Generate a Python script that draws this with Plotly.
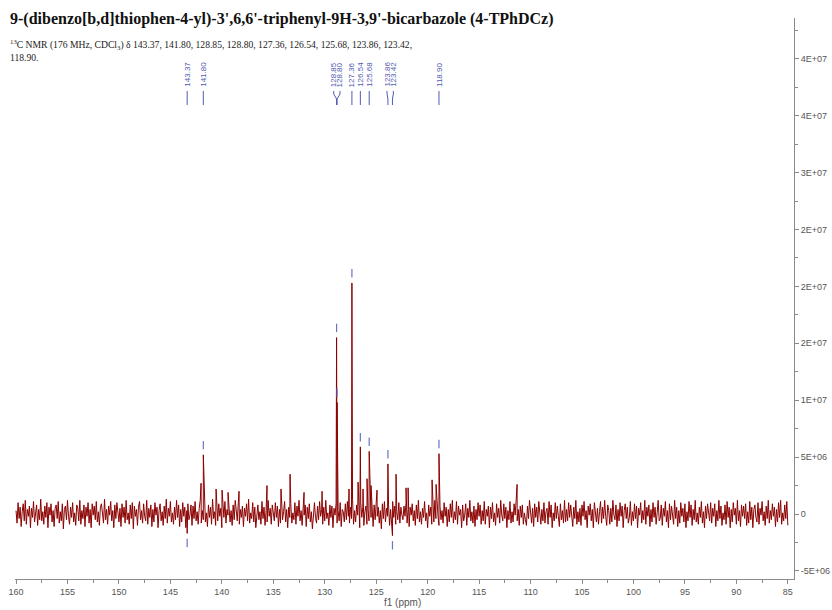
import numpy as np
import plotly.graph_objects as go

# ---------------- data ----------------
title_text = "9-(dibenzo[b,d]thiophen-4-yl)-3',6,6'-triphenyl-9H-3,9'-bicarbazole (4-TPhDCz)"
nmr_text = ("<sup>13</sup>C NMR (176 MHz, CDCl<sub>3</sub>) δ 143.37, 141.80, 128.85, 128.80, "
            "127.36, 126.54, 125.68, 123.86, 123.42,<br>118.90.")

# picked (labelled) peaks: ppm and intensity
picked_ppm = [143.37, 141.80, 128.85, 128.80, 127.36, 126.54, 125.68, 123.86, 123.42, 118.90]
picked_int = [-1.7e6, 5.2e6, 1.55e7, 9.8e6, 2.03e7, 5.9e6, 5.5e6, 4.4e6, -1.9e6, 5.3e6]

# smaller unlabelled signals
minor_ppm = [142.02, 140.56, 139.98, 139.40, 138.33, 135.61, 134.25, 133.37, 132.01, 130.26,
             127.64, 126.76, 126.28, 125.89, 125.50, 124.92, 123.07, 122.10, 121.90, 119.57,
             119.18, 111.31]
minor_int = [2.7e6, 2.2e6, 2.1e6, 1.9e6, 2.0e6, 2.5e6, 2.2e6, 3.5e6, 1.9e6, 2.0e6,
             2.2e6, 2.8e6, 2.2e6, 3.1e6, 2.5e6, 2.1e6, 3.5e6, 2.3e6, 2.3e6, 3.0e6,
             2.6e6, 2.6e6]

# baseline noise (units of 1e5), sampled every 0.1 ppm from 160.0 ppm down to 85.0 ppm
noise_start_ppm = 160.0
noise_step_ppm = 0.1
noise_e5 = [
    3, -8, 10, -4, 6, -11, 2, 9, -6, 12, -9, 4, -2, 7, -12, 5, -3, 11, -7, 1,
    8, -10, 4, -5, 13, -6, 2, -9, 7, -3, 10, -12, 6, -1, 9, -7, 3, -11, 5, 8,
    -4, 11, -8, 2, -6, 9, -13, 4, 7, -5, 12, -2, -9, 6, -3, 10, -7, 1, -10, 8,
    5, -6, 12, -9, 3, -4, 8, -11, 6, -2, 10, -8, 4, -12, 9, -1, 7, -5, 11, -7,
    2, -10, 6, 9, -3, -8, 13, -5, 4, -9, 7, -1, 11, -6, 3, -12, 8, -4, 10, -2,
    -7, 5, -11, 9, -3, 6, -8, 12, -5, 1, -9, 8, -4, 10, -13, 7, -2, 4, -10, 6,
    11, -5, 3, -8, 9, -2, -6, 12, -9, 5, -3, 8, -11, 4, -7, 10, -1, 6, -12, 3,
    9, -6, 2, -10, 7, -4, 13, -8, 5, -2, 11, -7, 1, -9, 6, -5, 12, -3, 8, -11,
    4, -7, 10, -2, 6, -12, 3, 9, -5, -1, 8, -10, 7, -4, 11, -6, 2, -9, 5, 12,
    -8, 3, -5, 10, -7, 1, -11, 8, -3, 6, -9, 13, -4, 2, -10, 7, -6, 9, -2, 5,
    -12, 6, -3, 11, -8, 4, -1, 9, -7, 3, -10, 8, -5, 12, -2, -6, 10, -9, 4, -3,
    7, -11, 5, -2, 9, -6, 13, -8, 1, -4, 10, -7, 6, -12, 3, 8, -5, 2, -9, 11,
    -4, 6, -10, 3, -7, 12, -2, 5, -9, 8, -1, -6, 10, -3, 7, -11, 4, -8, 9, -5,
    2, 11, -7, 4, -12, 6, -3, 9, -8, 1, -5, 10, -9, 7, -2, 12, -6, 3, -10, 5,
    -1, 8, -11, 6, -4, 9, -7, 2, -13, 5, 10, -3, -8, 7, -5, 11, -2, 4, -9, 6,
    -6, 12, -4, 1, -10, 8, -3, 7, -12, 5, -1, 9, -8, 3, -6, 10, -11, 4, 2, -7,
    9, -5, 11, -2, -8, 6, -4, 13, -9, 3, -7, 8, -1, 5, -12, 10, -3, 6, -10, 2,
    7, -9, 4, -6, 12, -3, 1, -11, 8, -5, 10, -2, 6, -8, 3, -13, 9, -4, 11, -7,
    5, -2, 8, -10, 4, -6, 11, -3, 7, -9, 2, -5, 10, -8, 6, -1,
    -5, 7, -2, 10, -8, 4, -11, 6, -1, 9, -6, 3, -10, 8, -4, 12, -7, 2, -9, 5,
    -3, 11, -6, 1, -12, 8, -2, 6, -9, 4, -7, 12, -4, 9, -1, -10, 7, -5, 3, -8,
    10, -2, 6, -11, 4, -7, 9, -3, 12, -8, 2, -5, 11, -9, 7, -1, 4, -12, 8, -6,
    -1, 9, -10, 5, -3, 12, -6, 2, -8, 7, -11, 4, -5, 10, -2, 8, -9, 3, -6, 11,
    -9, 4, -2, 7, -12, 6, -4, 10, -7, 1, -10, 9, -3, 5, -8, 12, -1, -6, 9, -4,
    6, -12, 3, -5, 11, -8, 2, -7, 9, -1, 12, -6, 4, -10, 7, -3, 8, -9, 1, -5,
    -10, 7, -4, 12, -2, -8, 5, -11, 9, -3, 6, -7, 11, -1, -9, 4, -6, 10, -8, 2,
    5, -9, 11, -3, 8, -12, 1, -6, 10, -4, 7, -2, -11, 9, -5, 3, -8, 12, -7, 4,
    -6, 10, -3, 8, -1, -11, 6, -4, 12, -9, 2, -7, 5, -10, 8, -2, 11, -5, 3, -12,
    7, -1, 9, -6, 4, -12, 10, -3, -7, 5, -9, 2, 11, -8, 6, -4, 12, -2, -10, 8,
    3, -9, 5, -7, 12, -1, -5, 8, -11, 4, -6, 10, -2, 7, -12, 3, 9, -4, 6, -8,
    -3, 11, -10, 2, -6, 9, -4, 7, -12, 5, -1, 10, -8, 3, -5, 12, -9, 6, -2, 8,
    -11, 4, -7, 10, -3, 6, -9, 1, 12, -6, -4, 8, -10, 5, -2, 11, -7, 3, -12, 9,
    -5, 7, -1, -9, 12, -4, 6, -11, 3, -8, 10, -2, 5, -7, 9, -12, 2, -6, 11, -3,
    8, -10, 4, -5, 12, -7, 1, -9, 6, -3, 11, -8, 2, -12, 7, -4, 9, -1, -6, 10,
    -8, 5, -2, 9, -11, 3, -6, 12, -4, 7, -10, 1, -5, 8, -9, 11, -3, 6, -12, 4,
    -7, 10, -1, 5, -9, 12, -6, 3, -11, 8, -2, 7, -4, 9, -10, 2, -8, 11, -5, 6,
    -12, 4, 8, -3, -7, 10, -9, 5, -1, 11, -6, 2, -10, 7, -4, 12, -8, 3, -5, 9,
    -2, 6, -11, 4, -7, 10, -3, 12, -9, 1, -6, 8, -4, 11, -10,
]

x_tick_vals = [160, 155, 150, 145, 140, 135, 130, 125, 120, 115, 110, 105, 100, 95, 90, 85]
y_tick_vals = [-5e6, 0, 5e6, 1e7, 1.5e7, 2e7, 2.5e7, 3e7, 3.5e7, 4e7]
y_tick_text = ["-5E+06", "0", "5E+06", "1E+07", "2E+07", "2E+07", "2E+07", "3E+07", "4E+07", "4E+07"]
y_minor_vals = [-2.5e6, 2.5e6, 7.5e6, 1.25e7, 1.75e7, 2.25e7, 2.75e7, 3.25e7, 3.75e7, 4.25e7]

# ---------------- build spectrum ----------------
noise_ppm = noise_start_ppm - noise_step_ppm * np.arange(len(noise_e5))
all_ppm = np.concatenate([noise_ppm, picked_ppm, minor_ppm])
all_int = np.concatenate([np.array(noise_e5) * 1e5, picked_int, minor_int])
order = np.argsort(-all_ppm, kind="stable")
spec_x = all_ppm[order]
spec_y = all_int[order]

LINE_COL = "#8b0000"
LABEL_COL = "#4f5bb0"
AXIS_COL = "#8a8a8a"
TICK_FONT = dict(family="Liberation Sans, Arial, sans-serif", size=9, color="#555555")

fig = go.Figure()
fig.add_trace(go.Scatter(x=spec_x, y=spec_y, mode="lines",
                         line=dict(color=LINE_COL, width=1), hoverinfo="skip",
                         showlegend=False))

# peak-pick markers
mk_off = 0.85e6
mk_y = [h + mk_off if h > 0 else h - mk_off for h in picked_int]
fig.add_trace(go.Scatter(x=picked_ppm, y=mk_y, mode="markers",
                         marker=dict(symbol="line-ns", size=6,
                                     line=dict(width=1.2, color="#6a74c4")),
                         hoverinfo="skip", showlegend=False))


# ---------------- peak labels with leader lines ----------------
def spread_labels(peaks, gap):
    groups = [[p] for p in peaks]

    def place(g):
        c = sum(g) / len(g)
        return [c + gap * ((len(g) - 1) / 2 - i) for i in range(len(g))]

    changed = True
    while changed:
        changed = False
        for i in range(len(groups) - 1):
            a = place(groups[i])
            b = place(groups[i + 1])
            if a[-1] - b[0] < gap:
                groups[i] = groups[i] + groups[i + 1]
                del groups[i + 1]
                changed = True
                break
    out = []
    for g in groups:
        out += place(g)
    return out


H_PX = 561
TOP_PX = 18
W_PX = 779
LEFT_PX = 15


def paper_y(ypix):
    return (TOP_PX + H_PX - ypix) / H_PX


def paper_x(xpix):
    return (xpix - LEFT_PX) / W_PX


label_pos = spread_labels(picked_ppm, 0.61)
for p, lp in zip(picked_ppm, label_pos):
    fig.add_annotation(x=lp, y=paper_y(89), xref="x", yref="paper",
                       text=f"{p:.2f}", textangle=-90, showarrow=False,
                       xanchor="center", yanchor="bottom",
                       font=dict(family="Liberation Sans, Arial, sans-serif", size=8, color=LABEL_COL))
    pts = [(lp, 91), (lp, 94), (p, 99), (p, 105)]
    for (xa, ya), (xb, yb) in zip(pts[:-1], pts[1:]):
        fig.add_shape(type="line", xref="x", yref="paper",
                      x0=xa, x1=xb, y0=paper_y(ya), y1=paper_y(yb),
                      line=dict(color=LABEL_COL, width=1))

# ---------------- title texts ----------------
fig.add_annotation(x=paper_x(8), y=paper_y(19), xref="paper", yref="paper",
                   text=f"<b>{title_text}</b>", showarrow=False,
                   xanchor="left", yanchor="middle",
                   font=dict(family="Liberation Serif, Times New Roman, serif", size=16, color="#111111"))
fig.add_annotation(x=paper_x(8), y=paper_y(36), xref="paper", yref="paper",
                   text=nmr_text, showarrow=False, align="left",
                   xanchor="left", yanchor="top",
                   font=dict(family="Liberation Serif, Times New Roman, serif", size=9.65, color="#222222"))
fig.add_annotation(x=paper_x(402), y=paper_y(602), xref="paper", yref="paper",
                   text="f1 (ppm)", showarrow=False, xanchor="center", yanchor="middle",
                   font=dict(family="Liberation Sans, Arial, sans-serif", size=10, color="#555555"))

fig.update_layout(
    width=832, height=610,
    margin=dict(l=LEFT_PX, r=832 - LEFT_PX - W_PX, t=TOP_PX, b=610 - TOP_PX - H_PX),
    paper_bgcolor="white", plot_bgcolor="white",
    showlegend=False,
    xaxis=dict(range=[160.1, 84.4], tickmode="array", tickvals=x_tick_vals,
               ticks="outside", ticklen=4, tickcolor=AXIS_COL, tickfont=TICK_FONT,
               showline=True, linecolor=AXIS_COL, linewidth=1,
               showgrid=False, zeroline=False, automargin=False,
               minor=dict(dtick=2.5, tick0=0, ticks="outside", ticklen=3,
                          tickcolor=AXIS_COL, showgrid=False)),
    yaxis=dict(range=[-5.71e6, 4.358e7], side="right", tickmode="array",
               tickvals=y_tick_vals, ticktext=y_tick_text,
               ticks="outside", ticklen=4, tickcolor=AXIS_COL, tickfont=TICK_FONT,
               showline=True, linecolor=AXIS_COL, linewidth=1,
               showgrid=False, zeroline=False, automargin=False,
               minor=dict(tickvals=y_minor_vals, ticks="outside", ticklen=3,
                          tickcolor=AXIS_COL, showgrid=False)),
)

fig.write_html("out.html", config={"displayModeBar": False},
               post_script="document.body.style.margin='0px';")
